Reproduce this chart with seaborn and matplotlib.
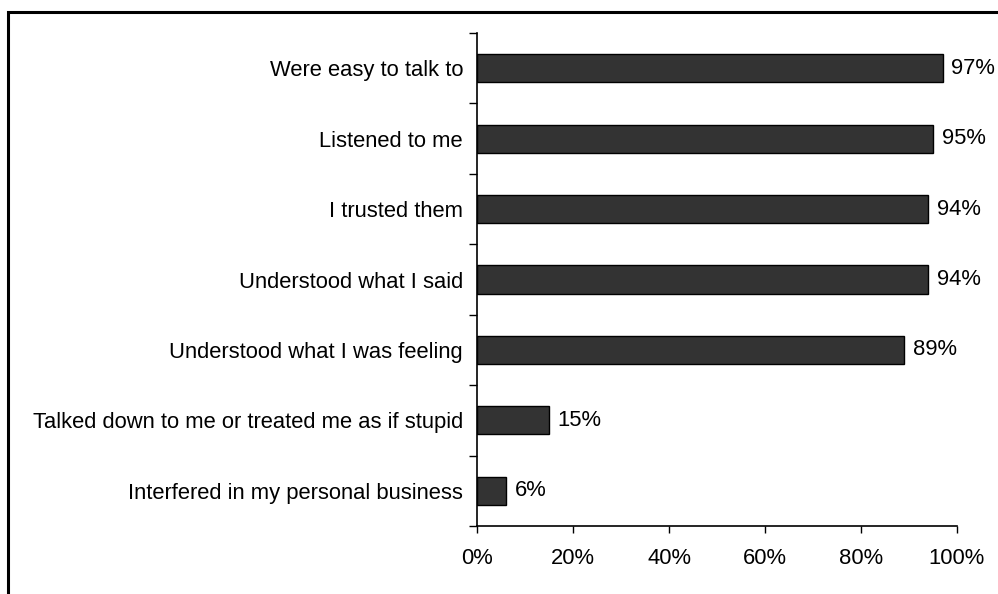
import matplotlib
matplotlib.use("Agg")
import matplotlib.pyplot as plt
import matplotlib.patches as mpatches
from matplotlib.ticker import FixedLocator, PercentFormatter
import seaborn as sns
import pandas as pd

categories = [
    "Were easy to talk to",
    "Listened to me",
    "I trusted them",
    "Understood what I said",
    "Understood what I was feeling",
    "Talked down to me or treated me as if stupid",
    "Interfered in my personal business",
]
values = [97, 95, 94, 94, 89, 15, 6]
x_ticks = [0, 20, 40, 60, 80, 100]

FS = 15.8

sns.set_theme(style="white")
plt.rcParams["font.family"] = ["Liberation Sans", "DejaVu Sans"]

df = pd.DataFrame({"item": categories, "pct": values})

fig = plt.figure(figsize=(9.98, 5.94), dpi=100)
W, H = 998, 594
ax = fig.add_axes([477 / W, 1 - 526 / H, (957 - 477) / W, (526 - 33) / H])

sns.barplot(data=df, y="item", x="pct", orient="h", color="#333333",
            width=0.4, edgecolor="black", linewidth=1.0, saturation=1,
            ax=ax)

ax.set_xlim(0, 100)
ax.set_ylim(len(categories) - 0.5, -0.5)
ax.set_xlabel("")
ax.set_ylabel("")

# value labels at the bar ends
for i, v in enumerate(values):
    ax.text(v + 1.8, i, f"{v}%", va="center", ha="left", fontsize=FS,
            color="black")

# x axis
ax.xaxis.set_major_locator(FixedLocator(x_ticks))
ax.xaxis.set_major_formatter(PercentFormatter(decimals=0))
ax.tick_params(axis="x", which="major", direction="out", length=5,
               width=1, color="black", labelsize=FS, pad=11,
               bottom=True, labelcolor="black")

# y axis: ticks sit on the category boundaries
ax.yaxis.set_minor_locator(FixedLocator([i - 0.5 for i in range(len(categories) + 1)]))
ax.tick_params(axis="y", which="major", length=0, labelsize=FS, pad=10,
               labelcolor="black")
ax.tick_params(axis="y", which="minor", direction="out", length=6,
               width=1, color="black", left=True)

for side in ("top", "right"):
    ax.spines[side].set_visible(False)
for side in ("left", "bottom"):
    ax.spines[side].set_color("black")
    ax.spines[side].set_linewidth(1.2)

# outer frame of the chart area
frame = mpatches.Rectangle((8 / W, -0.05), 1.1, 1 - 12 / H + 0.05,
                           transform=fig.transFigure, fill=False,
                           edgecolor="black", linewidth=2.2, clip_on=False)
fig.patches.append(frame)

fig.savefig("out.png", dpi=100, facecolor="white")
